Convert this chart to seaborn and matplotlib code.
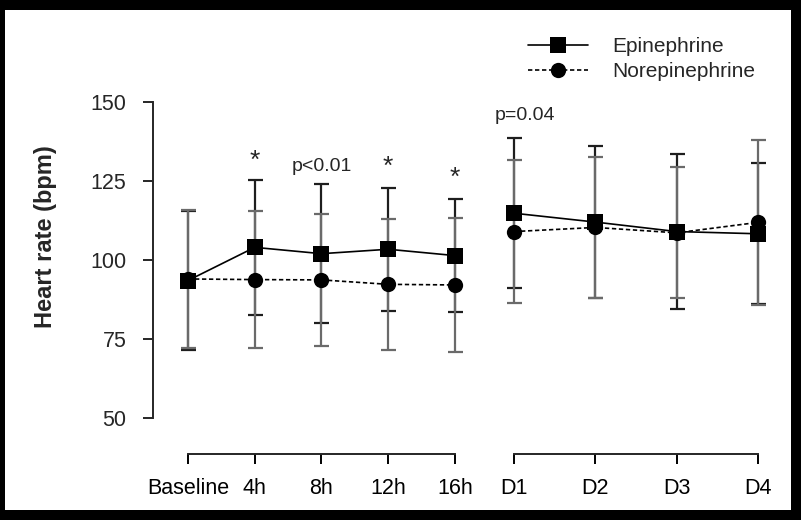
import numpy as np
import pandas as pd
import matplotlib
matplotlib.use('Agg')
import matplotlib.pyplot as plt
import seaborn as sns
from matplotlib.lines import Line2D
from matplotlib.patches import Rectangle

# heart rate, mean and SD
hours = ['Baseline', '4h', '8h', '12h', '16h']
days = ['D1', 'D2', 'D3', 'D4']

epi_h = [93.5, 104.0, 102.0, 103.4, 101.4]
epi_h_sd = [22.0, 21.4, 22.0, 19.5, 17.9]
nor_h = [94.0, 93.8, 93.7, 92.3, 92.1]
nor_h_sd = [21.8, 21.7, 21.0, 20.8, 21.3]

epi_d = [114.8, 112.0, 109.0, 108.3]
epi_d_sd = [23.7, 24.0, 24.4, 22.3]
nor_d = [109.0, 110.3, 108.6, 111.9]
nor_d_sd = [22.7, 22.4, 20.7, 26.1]

# significance labels: (category index, text, height)
marks_h = [(1, '*', 131.5), (2, 'p<0.01', 129.7), (3, '*', 129.4), (4, '*', 126.0)]
marks_d = [(0, 'p=0.04', 145.6)]

yticks = [50, 75, 100, 125, 150]

sns.set_theme(style='ticks')
plt.rcParams['font.family'] = ['Liberation Sans', 'DejaVu Sans']
plt.rcParams['axes.linewidth'] = 1.4
narrow = ['Liberation Sans Narrow', 'Liberation Sans', 'DejaVu Sans']

W, H = 801, 520
fig = plt.figure(figsize=(W / 100, H / 100), dpi=100, facecolor='black')
fig.patches.append(Rectangle((5 / W, 10 / H), 786 / W, 500 / H, transform=fig.transFigure,
                             facecolor='white', edgecolor='none', zorder=-1))


def px_axes(x0, x1, y0, y1):
    return fig.add_axes([x0 / W, 1 - y1 / H, (x1 - x0) / W, (y1 - y0) / H])


ax1 = px_axes(153, 470, 102, 418)
ax2 = px_axes(495, 775, 102, 418)

mk = {'Epinephrine': 's', 'Norepinephrine': 'o'}
ds = {'Epinephrine': '', 'Norepinephrine': (2.6, 1.6)}
msize = 11


def draw(ax, labels, epi, epi_sd, nor, nor_sd, marks, txt_dx):
    pos = np.arange(len(labels))
    df = pd.DataFrame({'pos': np.concatenate([pos, pos]),
                       'hr': epi + nor,
                       'drug': ['Epinephrine'] * len(labels) + ['Norepinephrine'] * len(labels)})
    ax.errorbar(pos, epi, yerr=epi_sd, fmt='none', ecolor='#1e1e1e', elinewidth=1.6,
                capsize=5.4, capthick=1.6, zorder=1, clip_on=False)
    ax.errorbar(pos, nor, yerr=nor_sd, fmt='none', ecolor='#6a6a6a', elinewidth=1.6,
                capsize=5.4, capthick=1.6, zorder=1, clip_on=False)
    sns.lineplot(data=df, x='pos', y='hr', style='drug', markers=mk, dashes=ds,
                 color='black', markersize=msize, markeredgewidth=0, markeredgecolor='black',
                 linewidth=1.2, legend=False, estimator=None, ax=ax, zorder=3, clip_on=False)
    for i, t, y in marks:
        ax.annotate(t, xy=(i, y), xytext=(txt_dx, 0), textcoords='offset points',
                    ha='center', va='center', fontsize=14 if t != '*' else 19)
    ax.set_ylim(50, 150)
    ax.set_xlabel('')
    ax.patch.set_visible(False)
    sns.despine(ax=ax)
    ax.spines['bottom'].set_position(('outward', 26))
    ax.spines['bottom'].set_bounds(0, len(labels) - 1)
    ax.tick_params(axis='x', which='major', direction='out', length=7.2, width=1.4,
                   pad=10, labelsize=15, colors='black')
    ax.tick_params(axis='x', which='minor', direction='inout', length=11.5, width=1.4)
    ax.set_xticks(pos)
    ax.set_xticklabels(labels)
    for lab in ax.get_xticklabels():
        lab.set_fontfamily(narrow)
        lab.set_fontsize(15.5)


draw(ax1, hours, epi_h, epi_h_sd, nor_h, nor_h_sd, marks_h, 0)
draw(ax2, days, epi_d, epi_d_sd, nor_d, nor_d_sd, marks_d, 8)

ax1.set_xlim(-0.524, 4.225)
ax2.set_xlim(-0.234, 3.209)
ax1.set_xticks([len(hours) - 1], minor=True)
ax2.set_xticks([0], minor=True)

ax1.tick_params(axis='y', direction='out', length=7.2, width=1.4, pad=12, labelsize=15)
ax1.set_yticks(yticks)
ax1.set_yticklabels([str(v) for v in yticks])
for lab in ax1.get_yticklabels():
    lab.set_fontfamily(narrow)
    lab.set_fontsize(15.5)
ax1.spines['left'].set_bounds(50, 150)
ax1.set_ylabel('Heart rate (bpm)', fontsize=17, fontweight='bold')
ax1.yaxis.set_label_coords(-0.303, 0.573)

ax2.spines['left'].set_visible(False)
ax2.set_yticks([])
ax2.set_ylabel('')

handles = [Line2D([], [], color='black', lw=1.2, marker='s', markersize=msize, mew=0),
           Line2D([], [], color='black', lw=1.2, ls=(0, (2.6, 1.6)), marker='o', markersize=msize, mew=0)]
fig.legend(handles, ['Epinephrine', 'Norepinephrine'], loc='upper left',
           bbox_to_anchor=(528 / W, 1 - 37 / H), frameon=False, fontsize=15,
           handlelength=2.9, handletextpad=1.15, labelspacing=0.3, borderpad=0, borderaxespad=0)

fig.savefig('out.png', dpi=100)
